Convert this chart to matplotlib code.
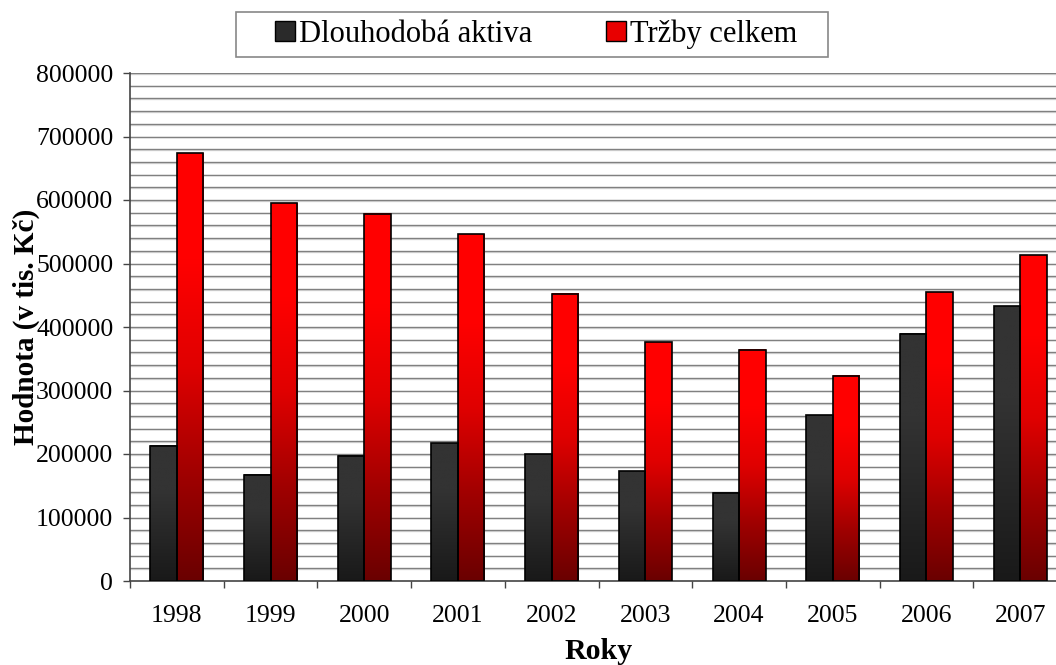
import numpy as np
import matplotlib.pyplot as plt
from matplotlib.colors import LinearSegmentedColormap
from matplotlib.patches import Patch, Rectangle

roky = ['1998', '1999', '2000', '2001', '2002', '2003', '2004', '2005', '2006', '2007']
aktiva = [213000, 167000, 197000, 217000, 200000, 173000, 139000, 261000, 389000, 433000]
trzby = [674000, 595000, 578000, 546000, 452000, 376000, 364000, 323000, 455000, 513000]

plt.rcParams['font.family'] = ['Liberation Serif', 'DejaVu Serif']

fig = plt.figure(figsize=(10.56, 6.65), dpi=100)
ax = fig.add_axes([130/1056, 84/665, 937/1056, 508/665])

cm_dark = LinearSegmentedColormap.from_list('d', ['#191919', '#262626', '#333333', '#333333'])
cm_red = LinearSegmentedColormap.from_list('r', ['#6a0000', '#a00000', '#e00000', '#ff0000', '#ff0000'])
grad = np.linspace(0, 1, 256).reshape(-1, 1)

x = np.arange(len(roky))
w = 0.283

def gradient_bars(xs, vals, cmap):
    for xi, v in zip(xs, vals):
        ax.imshow(grad, extent=(xi - w/2, xi + w/2, 0, v), origin='lower',
                  cmap=cmap, aspect='auto', zorder=2)
    ax.bar(xs, vals, w, fill=False, edgecolor='black', linewidth=1.2, zorder=3)

gradient_bars(x - w/2, aktiva, cm_dark)
gradient_bars(x + w/2, trzby, cm_red)

ax.set_xlim(-0.5, 9.5)
ax.set_ylim(0, 800000)
ax.set_aspect('auto')

# vodorovne mrizky po 20000
for yy in range(20000, 800001, 20000):
    ax.axhline(yy, color='#808080', linewidth=1.0, zorder=1)
    ax.axhline(yy - 1200, color='#dcdcdc', linewidth=1.0, zorder=0.9)

ax.set_yticks(range(0, 800001, 100000))
ax.set_yticklabels([str(v) for v in range(0, 800001, 100000)])
ax.set_xticks(np.arange(-0.5, 9.6, 1), minor=False)
ax.set_xticklabels([])
ax.set_xticks(x, minor=True)
ax.set_xticklabels(roky, minor=True)
ax.tick_params(axis='x', which='major', length=5, width=1, color='#444444', direction='out')
ax.tick_params(axis='x', which='minor', length=0, pad=17, labelsize=18.5)
ax.tick_params(axis='y', length=5, width=1, color='#444444', pad=7, labelsize=18.5)

for s in ['top', 'right']:
    ax.spines[s].set_visible(False)
for s in ['left', 'bottom']:
    ax.spines[s].set_color('#444444')
    ax.spines[s].set_linewidth(1.2)

ax.set_ylabel('Hodnota (v tis. Kč)', fontsize=21, fontweight='bold', labelpad=-3)
ax.set_xlabel('Roky', fontsize=21.5, fontweight='bold', labelpad=8)

# legenda s vlastnim ramem
fig.patches.append(Rectangle((236/1056, 1 - 57/665), 592/1056, 45/665,
                             transform=fig.transFigure, facecolor='white',
                             edgecolor='#888888', linewidth=1.2))
handles = [Patch(facecolor='#2a2a2a', edgecolor='black', label='Dlouhodobá aktiva'),
           Patch(facecolor='#e80000', edgecolor='black', label='Tržby celkem')]
leg = fig.legend(handles=handles, loc='center', bbox_to_anchor=(536/1056, 1 - 34/665),
                 ncol=2, fontsize=22, frameon=False, borderpad=0.2,
                 handlelength=0.65, handleheight=0.65, handletextpad=0.15, columnspacing=2.4)

fig.savefig('out.png', dpi=100)
